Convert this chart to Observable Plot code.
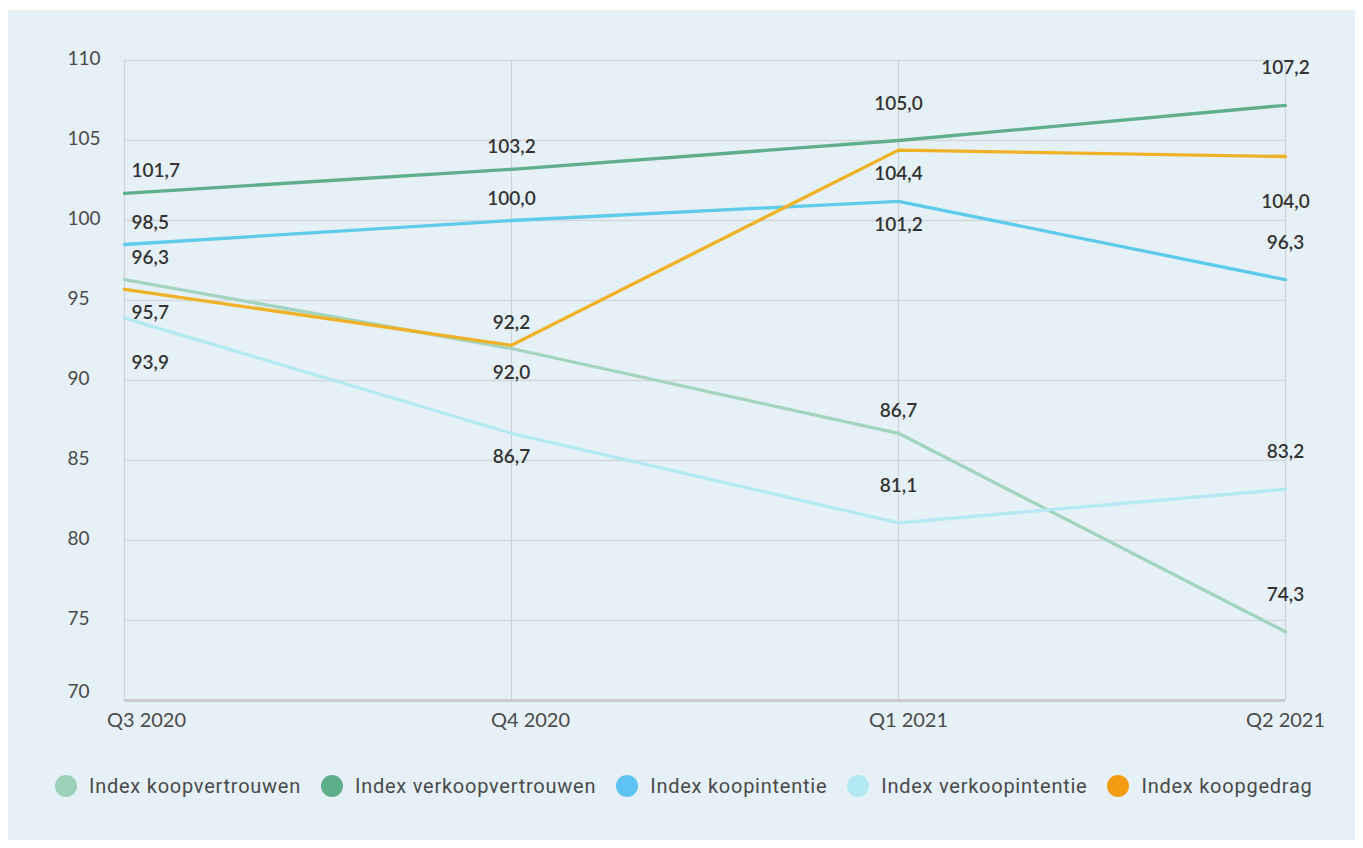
<!DOCTYPE html>
<html><head><meta charset="utf-8">
<script src="https://cdn.jsdelivr.net/npm/d3@7"></script>
<script src="https://cdn.jsdelivr.net/npm/@observablehq/plot@0.6"></script>
<style>
html,body{margin:0;padding:0;background:#fff;}
#panel{position:absolute;left:8px;top:10px;width:1347px;height:830px;background:#e6f0f7;}
#chart svg{display:block}
#legend{position:absolute;left:47px;top:764px;display:flex;align-items:center;font-family:Roboto,sans-serif;font-size:20px;letter-spacing:0.75px;color:#4a4a4a;white-space:nowrap;}
.item{display:flex;align-items:center;margin-right:20px}
.dot{width:22px;height:22px;border-radius:50%;margin-right:12px;flex:none}
</style></head><body>
<div id="panel"><div id="chart"></div><div id="legend"></div></div>
<script>
const quarters = ["Q3 2020", "Q4 2020", "Q1 2021", "Q2 2021"];
const seriesNames = ["Index koopvertrouwen", "Index verkoopvertrouwen", "Index koopintentie", "Index verkoopintentie", "Index koopgedrag"];
const koopvertrouwen = [96.3, 92.0, 86.7, 74.3];
const verkoopvertrouwen = [101.7, 103.2, 105.0, 107.2];
const koopintentie = [98.5, 100.0, 101.2, 96.3];
const verkoopintentie = [93.9, 86.7, 81.1, 83.2];
const koopgedrag = [95.7, 92.2, 104.4, 104.0];
const yTicks = [70, 75, 80, 85, 90, 95, 100, 105, 110];
// label placement: a = above, A = far above, b = below, B = far below
const labelPlacement = [
  ["a", "b", "a", "A"],
  ["a", "a", "A", "A"],
  ["a", "a", "b", "A"],
  ["B", "b", "A", "A"],
  ["b", "a", "b", "B"]
];
const lineColors = ["#a3d4bf", "#5fae8c", "#5dcbe9", "#b4e8f2", "#efb125"];
const legendColors = ["#9ed1b9", "#5eae8a", "#5ec2f3", "#b3e9f3", "#f39c12"];

const values = [koopvertrouwen, verkoopvertrouwen, koopintentie, verkoopintentie, koopgedrag];
const rows = seriesNames.flatMap((s, i) => quarters.map((q, j) => ({
  series: s, quarter: q, value: values[i][j], place: labelPlacement[i][j], qi: j,
  label: values[i][j].toFixed(1).replace(".", ",")
})));

const offsets = {a: -22, A: -37, b: 24, B: 45};
const labelMarks = [];
for (const code of Object.keys(offsets)) {
  labelMarks.push(Plot.text(rows.filter(d => d.place === code && d.qi === 0), {
    x: "quarter", y: "value", text: "label", dy: offsets[code], dx: 7, textAnchor: "start",
    fill: "#333", fontWeight: 600, fontSize: 19
  }));
  labelMarks.push(Plot.text(rows.filter(d => d.place === code && d.qi > 0), {
    x: "quarter", y: "value", text: "label", dy: offsets[code], textAnchor: "middle",
    fill: "#333", fontWeight: 600, fontSize: 19
  }));
}
const xLabelShift = [22, 19, 10, 0];

const chart = Plot.plot({
  width: 1347, height: 740,
  marginLeft: 116, marginRight: 70, marginTop: 50, marginBottom: 50,
  style: {fontFamily: "Lato, sans-serif", fontSize: "19px", color: "#4a4a4a", background: "transparent", overflow: "visible"},
  x: {type: "point", domain: quarters, padding: 0, axis: null},
  y: {domain: [70, 110], axis: null},
  color: {domain: seriesNames, range: lineColors},
  marks: [
    Plot.ruleY(yTicks.filter(t => t > 70), {stroke: "#d3d7db", strokeWidth: 1.5}),
    Plot.ruleX(quarters, {stroke: "#cdd2d7", strokeWidth: 1.2}),
    Plot.ruleY([70], {stroke: "#cbcccd", strokeWidth: 3}),
    Plot.axisY(yTicks.filter(t => t > 70), {tickSize: 0, tickPadding: 0, dx: -57, dy: -2, textAnchor: "start", fill: "#4a4a4a", fontSize: 19, label: null}),
    Plot.axisY([70], {tickSize: 0, tickPadding: 0, dx: -57, dy: -9, textAnchor: "start", fill: "#4a4a4a", fontSize: 19, label: null}),
    ...quarters.map((q, i) => Plot.axisX([q], {tickSize: 0, tickPadding: 12, dx: xLabelShift[i], fill: "#4a4a4a", fontSize: 20, label: null})),
    Plot.line(rows, {x: "quarter", y: "value", z: "series", stroke: "series", strokeWidth: 3.3}),
    ...labelMarks
  ]
});
document.getElementById("chart").appendChild(chart);

const legend = document.getElementById("legend");
seriesNames.forEach((s, i) => {
  const it = document.createElement("div");
  it.className = "item";
  it.innerHTML = `<span class="dot" style="background:${legendColors[i]}"></span><span>${s}</span>`;
  legend.appendChild(it);
});
</script>
</body></html>
